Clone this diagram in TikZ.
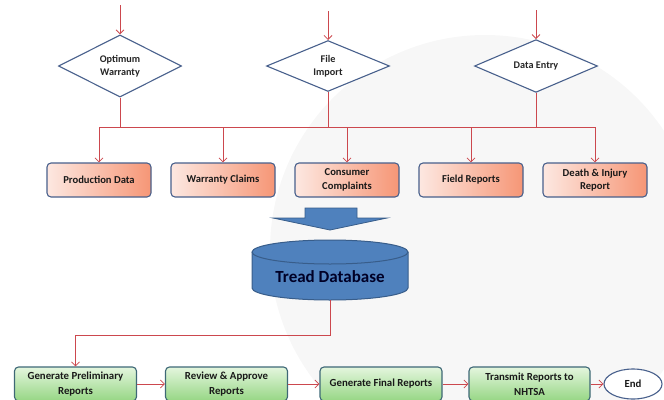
\documentclass[tikz,border=0pt]{standalone}
\usepackage{fontspec}
\setmainfont{Carlito}
\usetikzlibrary{shapes.geometric,arrows.meta,positioning}
\definecolor{linered}{RGB}{204,72,78}
\definecolor{edgeblue}{RGB}{72,96,140}
\definecolor{pinkL}{RGB}{253,232,225}
\definecolor{pinkR}{RGB}{246,150,118}
\definecolor{greenT}{RGB}{228,246,222}
\definecolor{greenB}{RGB}{150,214,132}
\definecolor{greenedge}{RGB}{62,104,118}
\definecolor{dbfill}{RGB}{79,129,189}
\definecolor{dbedge}{RGB}{56,93,138}

\begin{document}
\begin{tikzpicture}[x=1pt,y=-1pt,>={Straight Barb[length=4pt,width=8pt]},
    wire/.style={draw=linered, line width=0.8pt},
    choice/.style={diamond, draw=edgeblue, line width=1.1pt, fill=white, inner sep=0pt,
      minimum width=123pt, minimum height=50pt, align=center,
      font=\fontsize{10.2}{13}\selectfont\bfseries, text=black!85},
    source/.style={rectangle, rounded corners=4pt, draw=edgeblue, line width=1.1pt,
      left color=pinkL, right color=pinkR, minimum width=104pt, minimum height=34pt,
      align=center, font=\fontsize{10.6}{13.5}\selectfont\bfseries, text=black!90},
    stage/.style={rectangle, rounded corners=4pt, draw=greenedge, line width=1.1pt,
      top color=greenT, bottom color=greenB, minimum width=122pt, minimum height=34pt,
      align=center, font=\fontsize{10.8}{14.5}\selectfont\bfseries, text=black!90}]
  \useasboundingbox (0,0) rectangle (664,399);
  % background
  \fill[gray!6] (485,250) circle (215);
  % input diamonds
  \node[choice] (optwar) at (120,66) {Optimum\\Warranty};
  \node[choice] (fileimp) at (328,66) {File\\Import};
  \node[choice] (dataent) at (536,66) {Data Entry};
  \foreach \n in {optwar,fileimp,dataent}
    \draw[wire,->] (\n.north) ++(0,-29) -- (\n.north);
  % data sources
  \node[source] (prod) at (99,180) {Production Data};
  \node[source] (claims) at (223,180) {Warranty Claims};
  \node[source] (compl) at (347,180) {Consumer\\Complaints};
  \node[source] (field) at (471,180) {Field Reports};
  \node[source] (death) at (595,180) {Death \& Injury\\Report};
  \coordinate (bus) at (0,127);
  \draw[wire] (prod |- bus) -- (death |- bus);
  \foreach \n in {optwar,fileimp,dataent}
    \draw[wire] (\n.south) -- (\n.south |- bus);
  \foreach \n in {prod,claims,compl,field,death}
    \draw[wire,->] (\n |- bus) -- (\n.north);
  % block arrow
  \filldraw[fill=dbfill, draw=dbedge, line width=0.8pt]
    (305,208) -- (357,208) -- (357,218) -- (387,218) -- (330,230)
    -- (273,218) -- (305,218) -- cycle;
  % database
  \node[minimum width=156pt, minimum height=60pt, inner sep=0pt] (db) at (330,270) {};
  \filldraw[fill=dbfill, draw=dbedge, line width=1pt]
    (252,252) -- (252,288) arc[start angle=180, end angle=360, x radius=78, y radius=-12]
    -- (408,252) arc[start angle=0, end angle=180, x radius=78, y radius=-12] -- cycle;
  \draw[dbedge, line width=1pt] (252,252) arc[start angle=180, end angle=360, x radius=78, y radius=-12];
  \node[font=\fontsize{17}{20}\selectfont\bfseries, text=black!85!blue] (dbname) at (330,277) {Tread Database};
  % report stages
  \node[stage] (genpre) at (75.5,384) {Generate Preliminary\\Reports};
  \node[stage] (review) at (226.5,384) {Review \& Approve\\Reports};
  \node[stage] (genfin) at (381,384) {Generate Final Reports};
  \node[stage, minimum width=121pt] (transmit) at (529.5,384) {Transmit Reports to\\NHTSA};
  \node[ellipse, draw=edgeblue, line width=1.1pt, fill=white, minimum width=58pt, minimum height=30pt,
    inner sep=0pt, font=\fontsize{10.8}{13}\selectfont\bfseries, text=black!90] (fin) at (633,384) {End};
  \draw[wire,->] (db.south) -- ++(0,35) -| (genpre);
  \draw[wire,->] (genpre) -- (review);
  \draw[wire,->] (review) -- (genfin);
  \draw[wire,->] (genfin) -- (transmit);
  \draw[wire,->] (transmit) -- (fin);
\end{tikzpicture}
\end{document}
